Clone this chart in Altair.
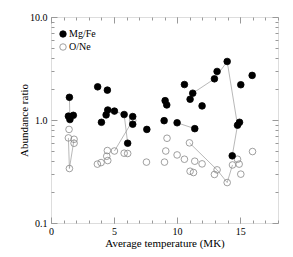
import altair as alt
import pandas as pd

# Mg/Fe (filled)
mg_x = [1.46, 1.38, 1.50, 1.77, 3.70, 4.47, 4.00, 4.37, 4.50, 5.03, 5.80, 6.08, 6.48, 6.48, 7.60, 9.05,
        9.18, 8.97, 10.00, 10.58, 11.03, 11.24, 11.40, 11.98, 12.96, 13.17, 13.97, 14.37, 14.79, 14.95,
        15.05, 15.95]
mg_y = [1.66, 1.09, 1.01, 1.11, 2.10, 1.95, 0.95, 1.12, 1.25, 1.22, 1.13, 0.595, 1.08, 0.91, 0.81, 1.54,
        1.40, 0.985, 0.94, 2.21, 1.59, 1.82, 0.824, 1.37, 2.51, 2.96, 3.70, 0.449, 0.89, 0.95,
        2.20, 2.71]
# O/Ne (open)
one_x = [1.43, 1.38, 1.83, 1.83, 1.46, 3.68, 3.97, 4.47, 4.42, 4.50, 5.03, 5.80, 6.08, 6.48, 7.57, 9.00,
         9.10, 9.20, 10.00, 10.58, 10.98, 11.03, 11.30, 11.40, 11.98, 12.96, 13.17, 13.97, 14.39, 14.79,
         14.92, 15.05, 15.98]
one_y = [0.81, 0.67, 0.65, 0.595, 0.338, 0.373, 0.386, 0.505, 0.445, 0.404, 0.50, 0.476, 0.473, 0.99, 0.39, 0.39,
         0.50, 0.665, 0.458, 0.416, 0.60, 0.318, 0.309, 0.398, 0.375, 0.296, 0.328, 0.247, 0.366, 0.416,
         0.373, 0.298, 0.494]
# connected chains (indices into the series)
mg_chains = [[0, 2], [8, 9, 10, 11], [18, 22], [21, 24, 26, 28, 27]]
one_chains = [[1, 4, 2], [10, 13], [20, 26, 27, 28]]

series = ["Mg/Fe", "O/Ne"]
x_major = [0, 5, 10, 15]
x_minor = list(range(0, 19))
y_major = [0.1, 1, 10]
y_minor = [0.2, 0.3, 0.4, 0.5, 0.6, 0.7, 0.8, 0.9, 2, 3, 4, 5, 6, 7, 8, 9]

FONT = "Liberation Serif"
GRID = "#999999"

pts = pd.DataFrame(
    [{"x": a, "y": b, "s": "O/Ne"} for a, b in zip(one_x, one_y)]
    + [{"x": a, "y": b, "s": "Mg/Fe"} for a, b in zip(mg_x, mg_y)]
)
rows = []
cid = 0
for chains, xs_, ys_ in [(mg_chains, mg_x, mg_y), (one_chains, one_x, one_y)]:
    for ch in chains:
        for k, i in enumerate(ch):
            rows.append({"x": xs_[i], "y": ys_[i], "c": cid, "o": k})
        cid += 1
lines = pd.DataFrame(rows)

xs = alt.Scale(domain=[0, 18], nice=False, zero=False)
ys = alt.Scale(type="log", domain=[0.1, 10], nice=False)


def xax(orient, values, size, labels, title=None):
    kw = dict(orient=orient, values=values, tickSize=size, offset=-size, domain=False,
              grid=False, tickColor=GRID, labels=labels, labelFont=FONT, labelFontSize=10,
              labelColor="black", labelPadding=3, labelFlush=False)
    if title:
        kw.update(title=title, titleFont=FONT, titleFontSize=11, titleFontWeight="normal",
                  titleColor="black", titlePadding=1)
    else:
        kw.update(title=None)
    return alt.Axis(**kw)


def yax(orient, values, size, labels, title=None):
    kw = dict(orient=orient, values=values, tickSize=size, offset=-size, domain=False,
              grid=False, tickColor=GRID, labels=labels, labelFont=FONT, labelFontSize=10,
              labelColor="black", labelPadding=4, format=".1f", labelFlush=False)
    if title:
        kw.update(title=title, titleFont=FONT, titleFontSize=11, titleFontWeight="normal",
                  titleColor="black", titlePadding=0)
    else:
        kw.update(title=None)
    return alt.Axis(**kw)


leg = dict(title=None, orient="none", legendX=7, legendY=12, padding=0,
           labelFont=FONT, labelFontSize=10, labelColor="black",
           symbolSize=42, symbolStrokeWidth=0.8, rowPadding=3, labelOffset=1)

points = alt.Chart(pts).mark_point(filled=False, size=44, strokeWidth=0.8, opacity=1).encode(
    x=alt.X("x:Q", scale=xs, axis=xax("bottom", x_major, 6, True, "Average temperature (MK)")),
    y=alt.Y("y:Q", scale=ys, axis=yax("left", y_major, 6, True, "Abundance ratio")),
    fill=alt.Fill("s:N", scale=alt.Scale(domain=series, range=["black", "transparent"]),
                  legend=alt.Legend(**leg)),
    stroke=alt.Stroke("s:N", scale=alt.Scale(domain=series, range=["black", "#888888"]),
                      legend=alt.Legend(**leg)),
    order=alt.Order("s:N", sort="descending"),
)

lns = alt.Chart(lines).mark_line(color="#999999", strokeWidth=0.7).encode(
    x=alt.X("x:Q", scale=xs, axis=xax("bottom", x_minor, 3, False)),
    y=alt.Y("y:Q", scale=ys, axis=yax("left", y_minor, 3, False)),
    detail="c:N",
    order="o:Q",
)

d1 = alt.Chart(pts).mark_point(opacity=0).encode(
    x=alt.X("x:Q", scale=xs, axis=xax("top", x_major, 6, False)),
    y=alt.Y("y:Q", scale=ys, axis=yax("right", y_major, 6, False)),
)
d2 = alt.Chart(pts).mark_point(opacity=0).encode(
    x=alt.X("x:Q", scale=xs, axis=xax("top", x_minor, 3, False)),
    y=alt.Y("y:Q", scale=ys, axis=yax("right", y_minor, 3, False)),
)

chart = (
    alt.layer(lns, points, d1, d2)
    .resolve_axis(x="independent", y="independent")
    .properties(
        width=227, height=206,
        autosize=alt.AutoSizeParams(type="none"),
        padding={"left": 43, "top": 9, "right": 7, "bottom": 30},
    )
    .configure_view(stroke=GRID, strokeWidth=1)
    .configure(background="white")
)

chart.save("out.html", embed_options={"renderer": "svg", "actions": False})
